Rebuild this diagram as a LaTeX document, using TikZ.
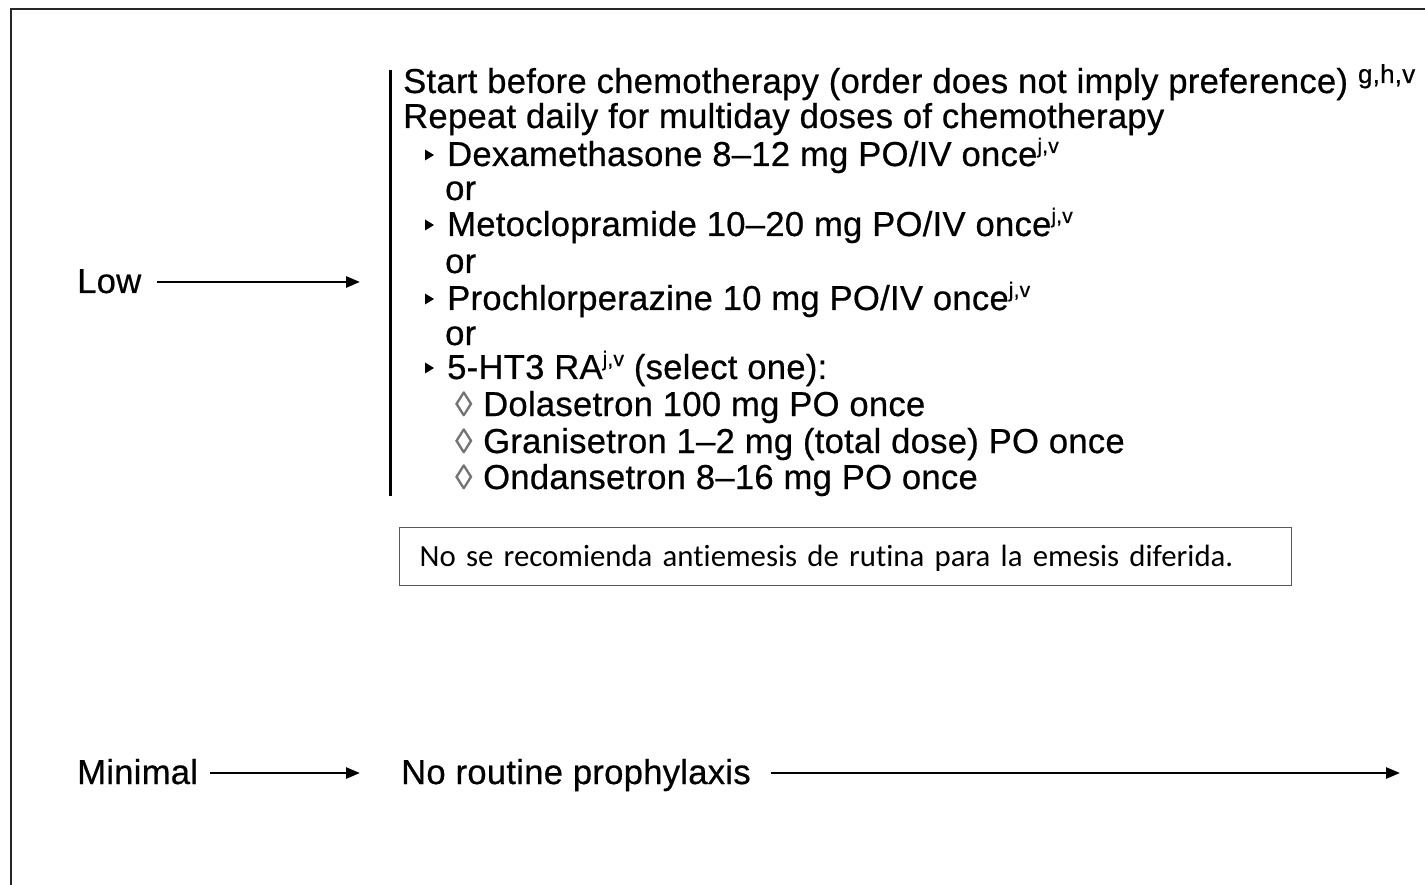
\documentclass[tikz,border=0pt]{standalone}
\usepackage{fontspec}
\setmainfont[FakeBold=0.6,LetterSpace=0.8]{Liberation Sans}
\newfontfamily\boxfont[Ligatures={NoCommon}]{Carlito}
\usetikzlibrary{arrows.meta}
\newcommand\jvsup{\raisebox{13pt}{\fontsize{21}{21}\selectfont j,v}}
\begin{document}
\begin{tikzpicture}[x=1pt,y=-1pt,
  txt/.style={font=\fontsize{34.6}{40}\selectfont, inner sep=0pt, anchor=base west, text height=27pt, text depth=5pt},
  loz/.style={txt, text=black!55},
  arr/.style={line width=2.6pt, -{Triangle[length=14pt,width=11pt]}},
  frame/.style={line width=2.5pt, draw=black!85},
  bracket/.style={line width=3pt},
  notebox/.style={draw=black!65, line width=1.3pt, anchor=north west, minimum height=58pt,
    text width=852pt, inner xsep=20pt, inner ysep=0pt, align=left,
    font=\boxfont\fontsize{30.8}{36}\selectfont, text height=26pt, text depth=6pt}
]
\useasboundingbox (0,0) rectangle (1425,885);
\draw[frame] (11,886) -- (11,9) -- (1426,9);

% Low branch
\node[txt] (low) at (77,293) {Low};
\coordinate (lowend) at (360,282);
\draw[arr, shorten <=16pt] (low.east) -- (lowend);

\draw[bracket] (390,70) -- (390,496);

\node[txt] (l1) at (403,93) {Start before chemotherapy (order does not imply preference) \raisebox{10pt}{\fontsize{26}{26}\selectfont g,h,v}};
\node[txt] (l2) at (403,128) {Repeat daily for multiday doses of chemotherapy};
\node[txt] (l3) at (447,166) {Dexamethasone 8–12 mg PO/IV once\jvsup};
\node[txt] (or1) at (445,200) {or};
\node[txt] (l4) at (447,236) {Metoclopramide 10–20 mg PO/IV once\jvsup};
\node[txt] (or2) at (445,273) {or};
\node[txt] (l5) at (447,310) {Prochlorperazine 10 mg PO/IV once\jvsup};
\node[txt] (or3) at (445,345) {or};
\node[txt] (l6) at (447,379) {5-HT3 RA\jvsup{} (select one):};
\node[loz] (z1) at (455,416) {◊};
\node[txt] (l7) at (483,416) {Dolasetron 100 mg PO once};
\node[loz] (z2) at (455,453) {◊};
\node[txt] (l8) at (483,453) {Granisetron 1–2 mg (total dose) PO once};
\node[loz] (z3) at (455,489) {◊};
\node[txt] (l9) at (483,489) {Ondansetron 8–16 mg PO once};

\foreach \b in {166,236,310,379}{
  \fill (425,\b-16.5) -- (425,\b-5.5) -- (434,\b-11) -- cycle;
}

\node[notebox] (nobox) at (399,527) {No se recomienda antiemesis de rutina para la emesis diferida.};

% Minimal branch
\node[txt] (minimal) at (77,784) {Minimal};
\node[txt] (norout) at (401,784) {No routine prophylaxis};
\coordinate (minend) at (1400,773);
\draw[arr, shorten <=12pt, shorten >=41pt] (minimal.east) -- (norout.west);
\draw[arr, shorten <=20pt] (norout.east) -- (minend);
\end{tikzpicture}
\end{document}
